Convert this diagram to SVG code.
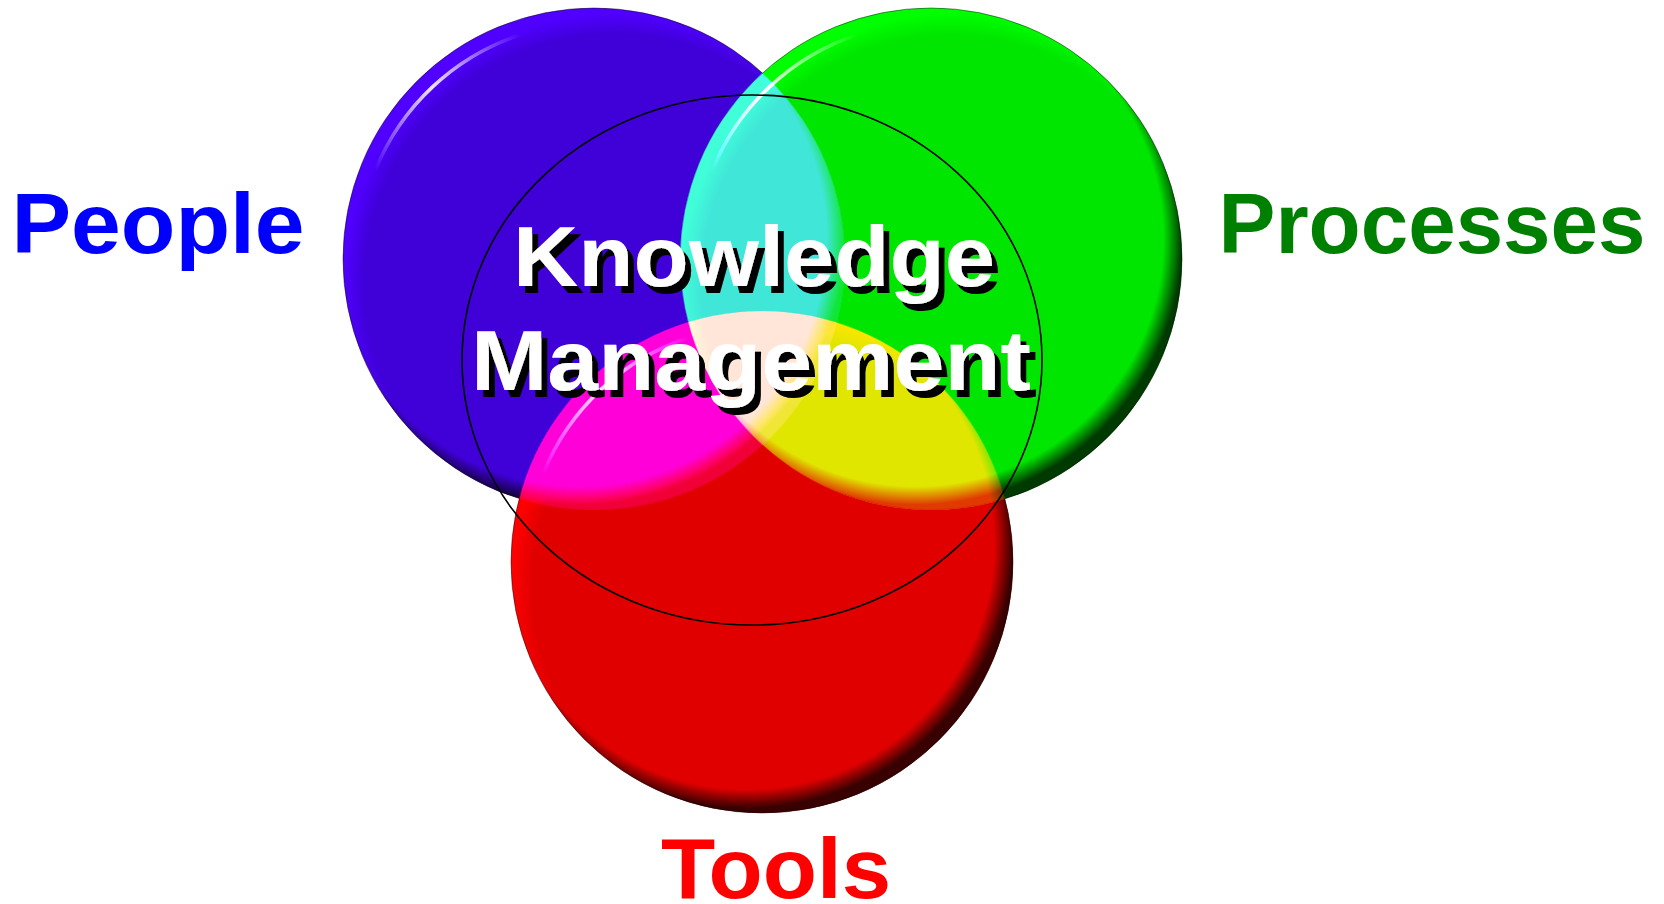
<svg xmlns="http://www.w3.org/2000/svg" xmlns:xlink="http://www.w3.org/1999/xlink" width="1664" height="904" viewBox="0 0 1664 904">
  <style>
    .blend { mix-blend-mode: plus-lighter; }
    .label { font-family: "Liberation Sans", Arial, sans-serif; font-weight: bold; }
    .km { fill: #ffffff; font-size: 86px; }
    .edge { stroke: #000; stroke-opacity: 0.45; stroke-width: 1; }
    .hl { fill: none; stroke: url(#hlGrad); stroke-width: 3.5; stroke-linecap: round; filter: url(#soft); }
  </style>
  <defs>
    <radialGradient id="blueFill" cx="0.54" cy="0.55" r="0.54">
      <stop offset="0" stop-color="#4000D8"/>
      <stop offset="0.92" stop-color="#4000D8"/>
      <stop offset="1" stop-color="#5000FF"/>
    </radialGradient>
    <radialGradient id="greenFill" cx="0.54" cy="0.55" r="0.54">
      <stop offset="0" stop-color="#00E600"/>
      <stop offset="0.92" stop-color="#00E600"/>
      <stop offset="1" stop-color="#00FF00"/>
    </radialGradient>
    <radialGradient id="redFill" cx="0.54" cy="0.55" r="0.54">
      <stop offset="0" stop-color="#E00000"/>
      <stop offset="0.92" stop-color="#E00000"/>
      <stop offset="1" stop-color="#FF0000"/>
    </radialGradient>
    <radialGradient id="darkRim" cx="0.47" cy="0.46" r="0.53">
      <stop offset="0" stop-color="#000" stop-opacity="0"/>
      <stop offset="0.93" stop-color="#000" stop-opacity="0"/>
      <stop offset="1" stop-color="#000" stop-opacity="0.75"/>
    </radialGradient>
    <linearGradient id="hlGrad" x1="0" y1="1" x2="1" y2="0">
      <stop offset="0" stop-color="#fff" stop-opacity="0"/>
      <stop offset="0.5" stop-color="#fff" stop-opacity="0.9"/>
      <stop offset="1" stop-color="#fff" stop-opacity="0"/>
    </linearGradient>
    <filter id="soft" x="-10%" y="-10%" width="120%" height="120%">
      <feGaussianBlur stdDeviation="0.7"/>
    </filter>
    <filter id="shadow" x="-5%" y="-10%" width="115%" height="130%">
      <feOffset in="SourceAlpha" dx="6" dy="7" result="off"/>
      <feFlood flood-color="#000"/>
      <feComposite in2="off" operator="in" result="sh"/>
      <feMerge>
        <feMergeNode in="sh"/>
        <feMergeNode in="SourceGraphic"/>
      </feMerge>
    </filter>
    <path id="hlArc" d="M -218.8 -88.4 A 236 236 0 0 1 -72.9 -224.5"/>
  </defs>

  <rect width="1664" height="904" fill="#ffffff"/>

  <g id="circles" style="isolation:isolate">
    <g id="people-circle" class="blend">
      <circle cx="594" cy="259" r="251" fill="url(#blueFill)" class="edge"/>
      <circle cx="594" cy="259" r="251" fill="url(#darkRim)"/>
      <use xlink:href="#hlArc" x="594" y="259" class="hl"/>
    </g>
    <g id="processes-circle" class="blend">
      <circle cx="931" cy="259" r="251" fill="url(#greenFill)" class="edge"/>
      <circle cx="931" cy="259" r="251" fill="url(#darkRim)"/>
      <use xlink:href="#hlArc" x="931" y="259" class="hl"/>
    </g>
    <g id="tools-circle" class="blend">
      <circle cx="762" cy="562" r="251" fill="url(#redFill)" class="edge"/>
      <circle cx="762" cy="562" r="251" fill="url(#darkRim)"/>
      <use xlink:href="#hlArc" x="762" y="562" class="hl"/>
    </g>
  </g>

  <g id="knowledge-management">
    <ellipse cx="752" cy="360" rx="290" ry="265" fill="none" stroke="#000" stroke-width="1.6"/>
    <g filter="url(#shadow)">
      <text class="label km" x="513" y="286" textLength="482" lengthAdjust="spacingAndGlyphs">Knowledge</text>
      <text class="label km" x="471" y="390" textLength="560" lengthAdjust="spacingAndGlyphs">Management</text>
    </g>
  </g>

  <g id="people">
    <text class="label" x="11.5" y="253" font-size="85" fill="#0000FF" textLength="293" lengthAdjust="spacingAndGlyphs">People</text>
  </g>
  <g id="processes">
    <text class="label" x="1218.5" y="253" font-size="85" fill="#008000" textLength="427" lengthAdjust="spacingAndGlyphs">Processes</text>
  </g>
  <g id="tools">
    <text class="label" x="661" y="898" font-size="85" fill="#FF0000" textLength="230" lengthAdjust="spacingAndGlyphs">Tools</text>
  </g>
</svg>
